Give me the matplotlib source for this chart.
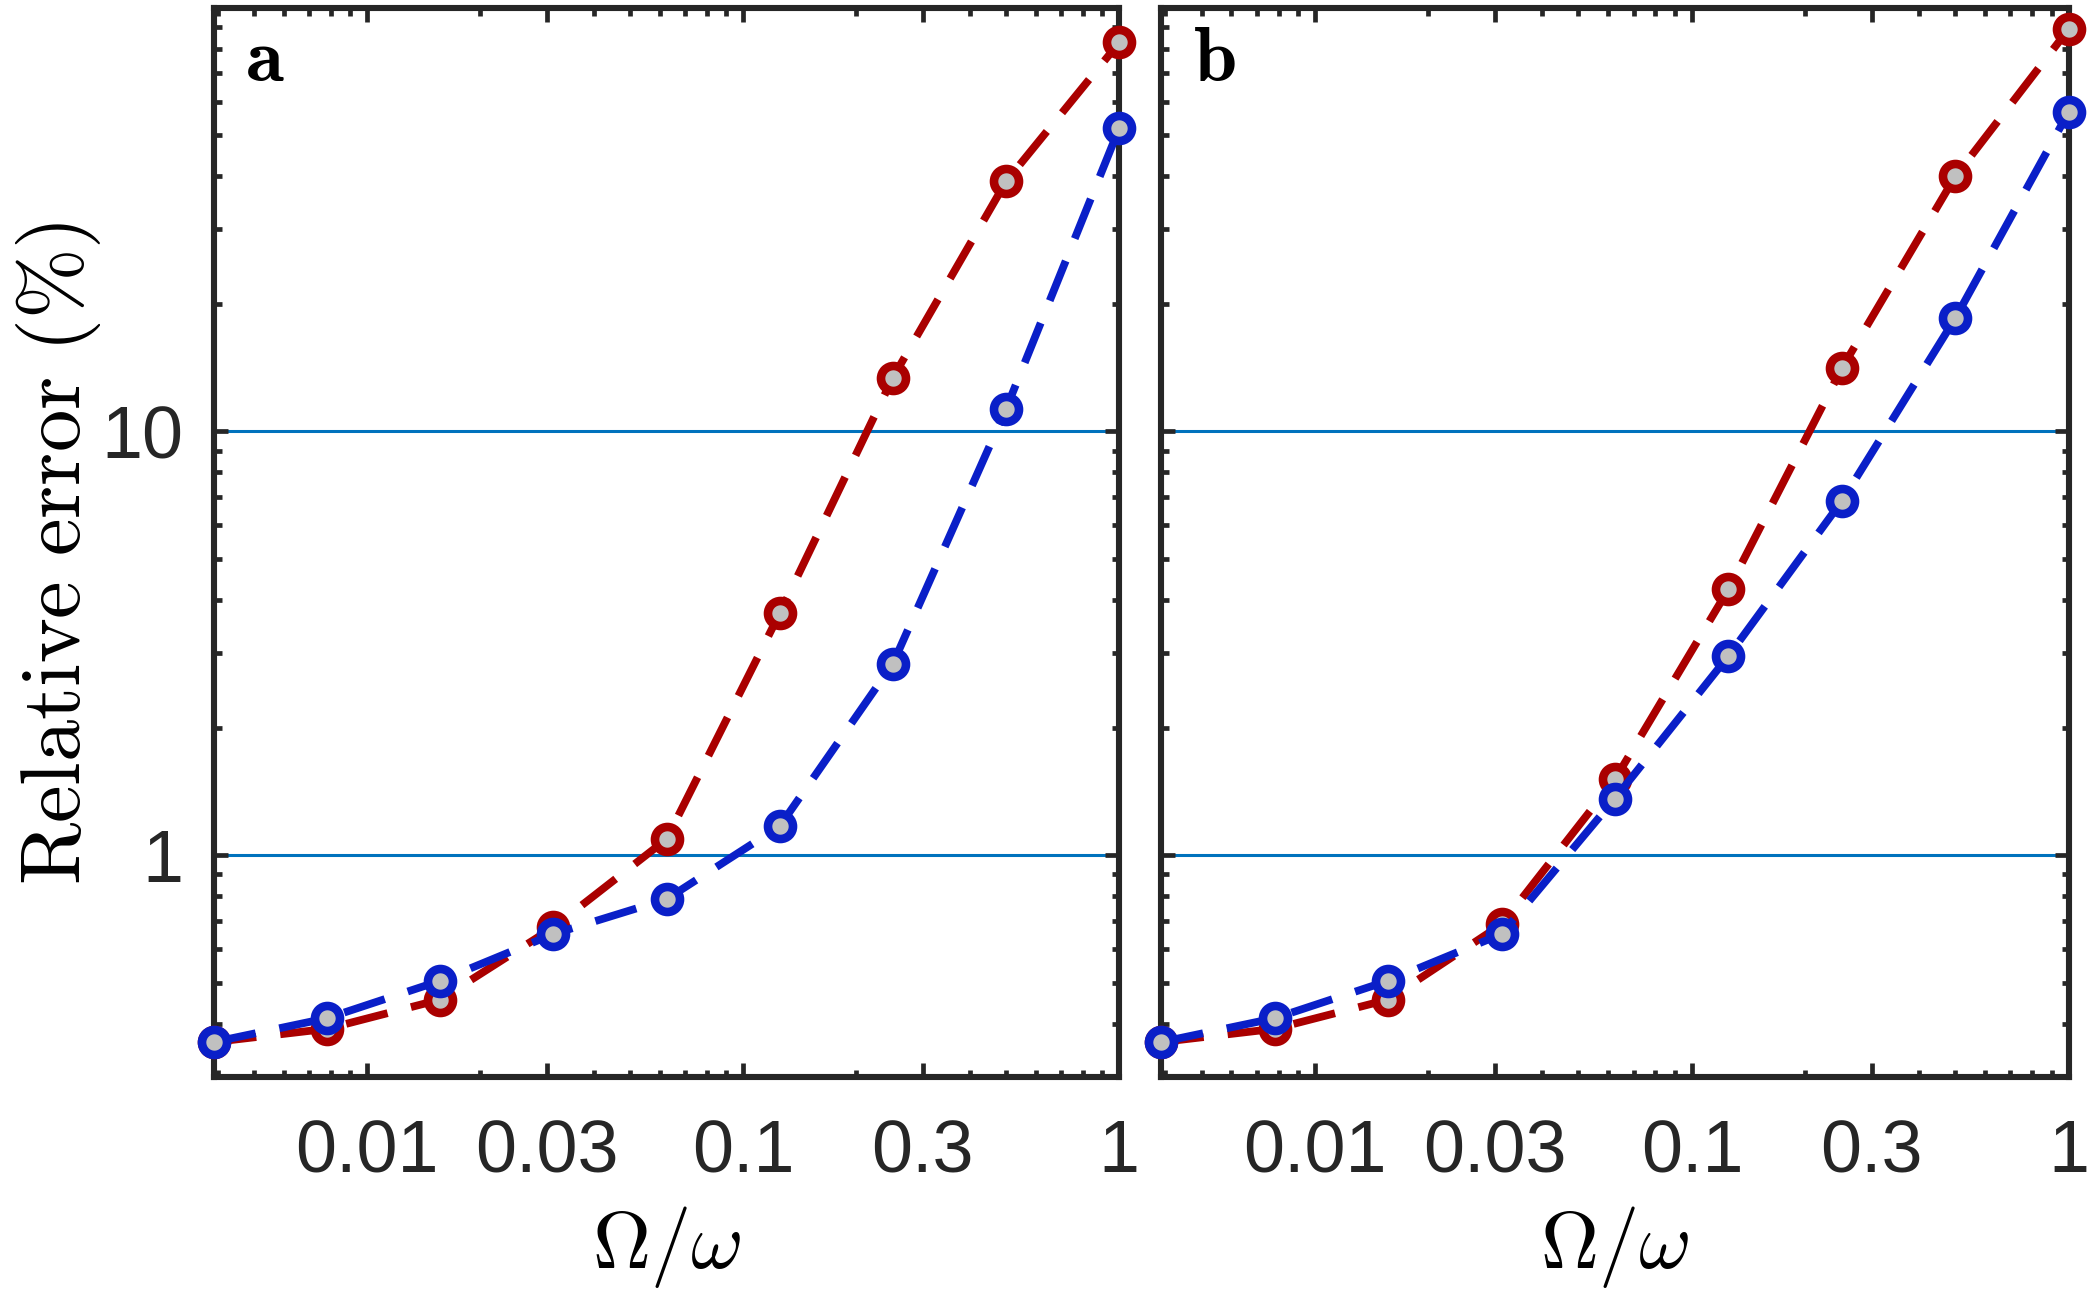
import matplotlib
matplotlib.use("Agg")
from matplotlib import pyplot as plt
from matplotlib.ticker import FixedLocator, LogLocator, NullFormatter, FixedFormatter

plt.rcParams['mathtext.fontset'] = 'cm'
plt.rcParams['font.family'] = ['Liberation Sans', 'DejaVu Sans']

# Omega/omega, powers of two from 2^-8 to 1
ratio = [2.0 ** k for k in range(-8, 1)]

err_a_red = [0.362, 0.389, 0.456, 0.675, 1.09, 3.72, 13.4, 38.9, 82.8]
err_a_blue = [0.362, 0.412, 0.505, 0.651, 0.787, 1.17, 2.83, 11.3, 52.0]
err_b_red = [0.362, 0.389, 0.456, 0.686, 1.51, 4.24, 14.1, 40.0, 89.1]
err_b_blue = [0.362, 0.412, 0.505, 0.651, 1.36, 2.95, 6.85, 18.5, 56.8]

x_ticks = [0.01, 0.03, 0.1, 0.3, 1]
x_tick_labels = ['0.01', '0.03', '0.1', '0.3', '1']
y_ticks = [1, 10, 100]
y_tick_labels = ['1', '10', '']
ref_levels = [1, 10]
panel_labels = ['a', 'b']

RED = '#AA0000'
BLUE = '#0A1FC8'
FACE = '#C0C0C0'
SPINE = '#262626'
REF = '#0072BD'


def style_axis(ax, show_y):
    ax.set_xscale('log')
    ax.set_yscale('log')
    ax.set_xlim(2.0 ** -8, 1)
    ax.set_ylim(0.3, 100)
    ax.xaxis.set_major_locator(FixedLocator(x_ticks))
    ax.xaxis.set_major_formatter(FixedFormatter(x_tick_labels))
    ax.xaxis.set_minor_locator(LogLocator(base=10, subs=range(2, 10)))
    ax.xaxis.set_minor_formatter(NullFormatter())
    ax.yaxis.set_major_locator(FixedLocator(y_ticks))
    if show_y:
        ax.yaxis.set_major_formatter(FixedFormatter(y_tick_labels))
    else:
        ax.yaxis.set_major_formatter(NullFormatter())
    ax.yaxis.set_minor_locator(LogLocator(base=10, subs=range(2, 10)))
    ax.yaxis.set_minor_formatter(NullFormatter())
    ax.tick_params(which='both', direction='in', top=True, right=True,
                   color=SPINE, width=1.7, labelsize=26.5, labelcolor=SPINE)
    ax.tick_params(which='major', length=5)
    ax.tick_params(axis='x', which='major', pad=15)
    ax.tick_params(axis='y', which='major', pad=11)
    ax.tick_params(which='minor', length=2.7)
    for sp in ax.spines.values():
        sp.set_linewidth(2.2)
        sp.set_color(SPINE)
    ax.set_xlabel(r'$\Omega/\omega$', fontsize=29, labelpad=6)


def draw_series(ax, y_vals, color):
    ax.plot(ratio, y_vals, linestyle=(0, (5.5, 3.1)), color=color, lw=2.8,
            marker='o', markersize=9.0, markerfacecolor=FACE,
            markeredgecolor=color, markeredgewidth=3.1, clip_on=False, zorder=3)


fig = plt.figure(figsize=(10.48, 6.47), dpi=200)
ax_a = fig.add_axes([0.102, 0.168, 0.432, 0.826])
ax_b = fig.add_axes([0.554, 0.168, 0.433, 0.826])

for ax, red, blue, lab, show_y in [(ax_a, err_a_red, err_a_blue, panel_labels[0], True),
                                   (ax_b, err_b_red, err_b_blue, panel_labels[1], False)]:
    for lv in ref_levels:
        ax.axhline(lv, color=REF, lw=1.1, zorder=1)
    draw_series(ax, red, RED)
    draw_series(ax, blue, BLUE)
    style_axis(ax, show_y)
    ax.text(0.035, 0.985, r'$\mathbf{' + lab + '}$', transform=ax.transAxes,
            fontsize=28, va='top', ha='left')

ax_a.set_ylabel(r'$\mathrm{Relative\ error\ (\%)}$', fontsize=30.5)
ax_a.yaxis.set_label_coords(-0.122, 0.49)

fig.savefig('out.png', dpi=200)
